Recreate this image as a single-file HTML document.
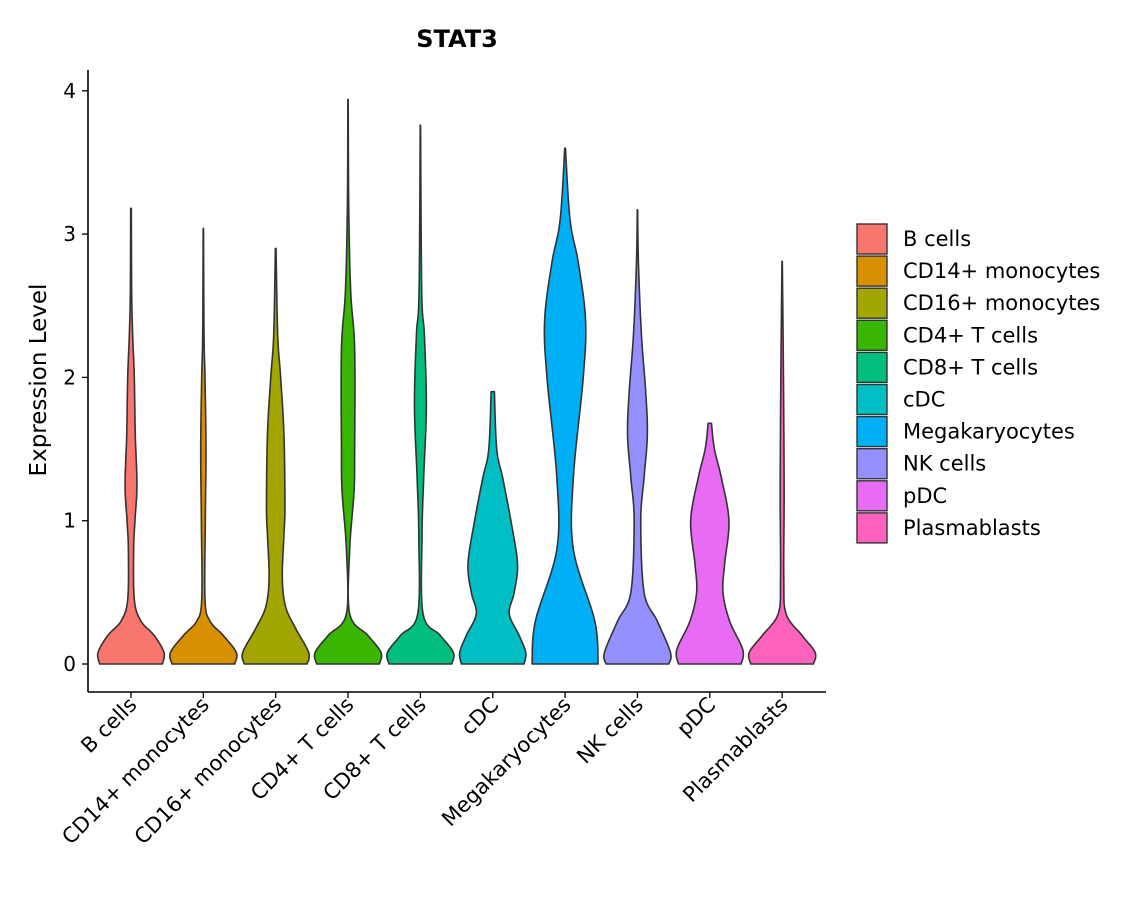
<!DOCTYPE html>
<html><head><meta charset="utf-8"><style>
body{margin:0;background:#fff;}
text{font-family:"DejaVu Sans","Liberation Sans",sans-serif;}
</style></head><body>
<svg id="chart" width="1140" height="900" xmlns="http://www.w3.org/2000/svg">
<text x="457" y="47" text-anchor="middle" font-size="24" font-weight="bold">STAT3</text>
<text transform="translate(46,380) rotate(-90)" text-anchor="middle" font-size="23">Expression Level</text>
<g id="plot"></g>
<g id="legend"></g>
</svg>
<script>
const categories=["B cells","CD14+ monocytes","CD16+ monocytes","CD4+ T cells","CD8+ T cells","cDC","Megakaryocytes","NK cells","pDC","Plasmablasts"];
const colors=["#F8766D","#D89000","#A3A500","#39B600","#00BF7D","#00BFC4","#00B0F6","#9590FF","#E76BF3","#FF62BC"];
const yTicks=[0,1,2,3,4];
// density profiles: [expression level, relative half-width]
const bCells=[[0,0.95],[0.08,1],[0.2,0.7],[0.3,0.3],[0.45,0.1],[0.8,0.08],[1.0,0.12],[1.25,0.18],[1.6,0.13],[2.0,0.1],[2.3,0.05],[2.6,0.02],[3.18,0.01]];
const cd14=[[0,0.95],[0.08,1],[0.2,0.6],[0.3,0.2],[0.45,0.05],[1,0.06],[1.5,0.08],[2,0.05],[2.3,0.02],[3.04,0.005]];
const cd16=[[0,0.95],[0.08,1],[0.25,0.6],[0.4,0.3],[0.6,0.2],[0.9,0.25],[1.1,0.28],[1.6,0.25],[2.0,0.15],[2.3,0.06],[2.9,0.01]];
const cd4=[[0,0.95],[0.08,1],[0.2,0.6],[0.35,0.05],[0.8,0.05],[1.2,0.18],[1.5,0.2],[2.2,0.2],[2.6,0.08],[3.2,0.02],[3.94,0.005]];
const cd8=[[0,0.95],[0.08,1],[0.2,0.6],[0.35,0.08],[0.9,0.05],[1.3,0.1],[1.8,0.18],[2.3,0.12],[2.6,0.04],[3.76,0.005]];
const cdc=[[0,0.95],[0.08,1],[0.2,0.8],[0.35,0.5],[0.5,0.65],[0.7,0.75],[1.0,0.55],[1.3,0.3],[1.5,0.12],[1.9,0.05]];
const mega=[[0,1],[0.3,0.9],[0.8,0.25],[1.3,0.25],[2.0,0.55],[2.4,0.62],[2.8,0.4],[3.1,0.15],[3.6,0.01]];
const nk=[[0,0.95],[0.08,1],[0.3,0.6],[0.5,0.2],[1.0,0.1],[1.3,0.2],[1.6,0.3],[1.9,0.25],[2.3,0.12],[2.8,0.03],[3.17,0.005]];
const pdc=[[0,0.95],[0.1,1],[0.3,0.6],[0.5,0.4],[0.7,0.45],[1.0,0.58],[1.3,0.35],[1.5,0.14],[1.68,0.05]];
const plasma=[[0,0.95],[0.08,1],[0.2,0.6],[0.35,0.12],[0.6,0.05],[1.2,0.06],[2.0,0.04],[2.81,0.005]];
const profiles=[bCells,cd14,cd16,cd4,cd8,cdc,mega,nk,pdc,plasma];

const NS="http://www.w3.org/2000/svg";
const plot=document.getElementById('plot');
const X0=88,X1=826,Y0=692;
const yScale=v=>664-v*143.3;
const xScale=i=>131+i*72.35;
const HW=33;
function mk(t,a){const e=document.createElementNS(NS,t);for(const k in a)e.setAttribute(k,a[k]);return e;}
function smooth(pts){
  const out=[];
  for(let i=0;i<pts.length-1;i++){
    const p0=pts[Math.max(i-1,0)],p1=pts[i],p2=pts[i+1],p3=pts[Math.min(i+2,pts.length-1)];
    for(let t=0;t<1;t+=0.1){
      const t2=t*t,t3=t2*t;
      const f=(a,b,c,d)=>0.5*((2*b)+(-a+c)*t+(2*a-5*b+4*c-d)*t2+(-a+3*b-3*c+d)*t3);
      out.push([f(p0[0],p1[0],p2[0],p3[0]),Math.max(0.003,f(p0[1],p1[1],p2[1],p3[1]))]);
    }
  }
  out.push(pts[pts.length-1]);return out;
}
profiles.forEach((prof,i)=>{
  const cx=xScale(i);const s=smooth(prof);
  let d='M'+(cx+s[0][1]*HW)+','+yScale(s[0][0]);
  s.forEach(p=>{d+=' L'+(cx+p[1]*HW).toFixed(2)+','+yScale(p[0]).toFixed(2);});
  for(let j=s.length-1;j>=0;j--){d+=' L'+(cx-s[j][1]*HW).toFixed(2)+','+yScale(s[j][0]).toFixed(2);}
  d+=' Z';
  const p=mk('path',{d:d,fill:colors[i],stroke:'#333',"stroke-width":1.6,"stroke-linejoin":"round"});
  
  
  plot.appendChild(p);
  const tk=mk('line',{x1:cx,x2:cx,y1:Y0,y2:Y0+6,stroke:'#000',"stroke-width":1.3});
  
  
  plot.appendChild(tk);
  const tl=mk('text',{transform:`translate(${cx+7},${Y0+14}) rotate(-45)`,"text-anchor":"end","font-size":21,fill:"#000"});
  tl.textContent=categories[i];
  
  
  plot.appendChild(tl);
});
yTicks.forEach(v=>{
  const y=yScale(v);
  const t=mk('line',{x1:X0-6,x2:X0,y1:y,y2:y,stroke:'#000',"stroke-width":1.3});
  
  
  plot.appendChild(t);
  const l=mk('text',{x:X0-12,y:y+7,"text-anchor":"end","font-size":20});
  l.textContent=v;
  
  
  plot.appendChild(l);
});
const ya=mk('line',{x1:X0,x2:X0,y1:70,y2:Y0,stroke:'#000',"stroke-width":1.6});


plot.appendChild(ya);
const xa=mk('line',{x1:X0,x2:X1,y1:Y0,y2:Y0,stroke:'#000',"stroke-width":1.6});


plot.appendChild(xa);
const lg=document.getElementById('legend');


categories.forEach((c,i)=>{
  const y=224+i*32.1;
  const g=mk('g',{});
  
  
  g.appendChild(mk('rect',{x:857,y:y,width:30,height:30,fill:colors[i],stroke:'#333',"stroke-width":1.4}));
  const t=mk('text',{x:903,y:y+22,"font-size":21});
  t.textContent=c;g.appendChild(t);
  lg.appendChild(g);
});
</script>
</body></html>
